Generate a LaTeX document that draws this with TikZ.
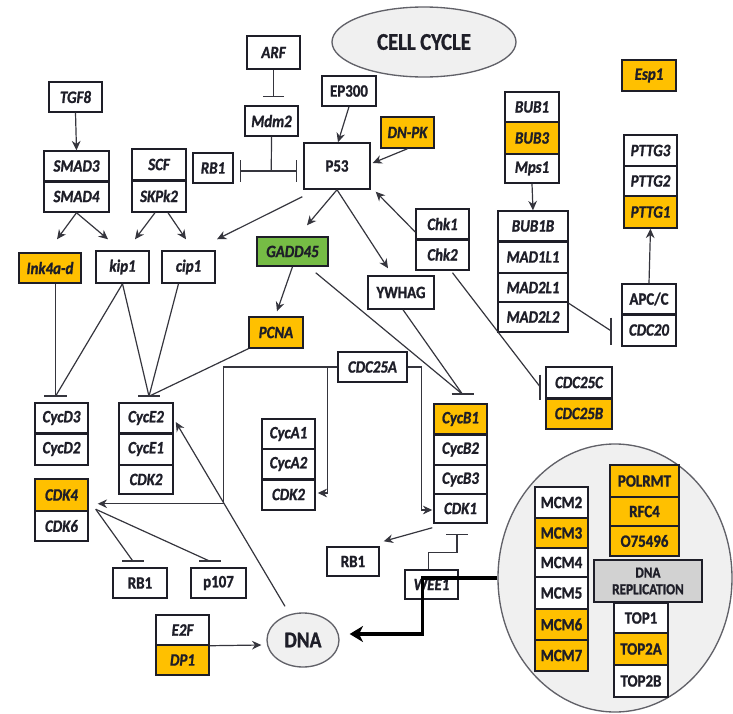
\documentclass[tikz,border=0pt]{standalone}
\usepackage{fontspec}
\setmainfont{Carlito}[FakeStretch=0.86, BoldFeatures={FakeBold=1.2}, BoldItalicFeatures={FakeBold=1.2}]
\usetikzlibrary{arrows.meta,calc,shapes.geometric}
\definecolor{orng}{HTML}{FFC000}
\definecolor{grn}{HTML}{76BC45}
\definecolor{ink}{HTML}{1E1E28}
\definecolor{lgray}{HTML}{F0F0F0}
\definecolor{mgray}{HTML}{D2D2D2}
\newcommand\lblfont{\fontsize{13}{14}\selectfont\bfseries\itshape}
\newcommand\uplfont{\fontsize{13}{14}\selectfont\bfseries}
\newcommand{\Bx}[7][]{\node[bx,#1,minimum width={(#5-#3)*0.75pt},minimum height={(#6-#4)*0.75pt}] (#2) at ({(#3+#5)/2},{(#4+#6)/2}) {#7};}
\newcommand{\Sep}[1]{\draw[sepline] (#1.south west) -- (#1.south east);}
\begin{document}
\begin{tikzpicture}[x=0.75pt,y=-0.75pt,
  bx/.style={draw=ink, line width=1.1pt, fill=white, inner sep=0pt, font=\lblfont, text=ink},
  up/.style={font=\uplfont},
  org/.style={fill=orng},
  gr/.style={fill=grn},
  sepline/.style={draw=ink, line width=2.2pt},
  con/.style={draw=ink!90, line width=0.9pt},
  arr/.style={con, -{Stealth[length=7pt,width=6.5pt]}},
  inh/.style={con, -{Bar[width=16pt,line width=1.3pt]}},
  barl/.style={draw=ink!90, line width=1.3pt},
  thk/.style={draw=black, line width=2.4pt, -{Stealth[length=10pt,width=12pt,inset=3pt]}},
  ell/.style={ellipse, draw=ink!70, line width=1pt, fill=lgray, inner sep=0pt, text=ink}
]
\useasboundingbox (0,0) rectangle (733,714);

% big replication circle and ellipses
\node[ell] (rep) at (615,578) [minimum width=234*0.75pt, minimum height=268*0.75pt] {};
\node[ell, minimum width=184*0.75pt, minimum height=70*0.75pt, font=\fontsize{18}{20}\selectfont\bfseries] (cc) at (424,42) {CELL CYCLE};
\node[ell, minimum width=72*0.75pt, minimum height=54*0.75pt, font=\fontsize{17}{19}\selectfont\bfseries] (dna) at (303,640) {DNA};

% boxes
\Bx{tgf}{49}{82}{102}{112}{TGF8}
\Bx{smad3}{44}{151}{109}{181}{SMAD3}
\Bx{smad4}{44}{181}{109}{212}{SMAD4}
\Bx{scf}{132}{149}{186}{180}{SCF}
\Bx{skpk2}{132}{180}{186}{212}{SKPk2}
\Bx{rbt}{193}{153}{233}{183}{RB1}
\Bx{arf}{247}{36}{300}{69}{ARF}
\Bx{mdm2}{245}{106}{298}{136}{Mdm2}
\Bx[up]{ep300}{322}{76}{376}{106}{EP300}
\Bx[up]{p53}{304}{143}{370}{189}{P53}
\Bx[org]{dnpk}{381}{117}{434}{148}{DN-PK}
\Bx[org]{esp1}{622}{60}{676}{91}{Esp1}
\Bx{bub1}{505}{92}{559}{122}{BUB1}
\Bx[org]{bub3}{505}{122}{559}{154}{BUB3}
\Bx{mps1}{505}{154}{559}{183}{Mps1}
\Bx{bub1b}{498}{211}{568}{241}{BUB1B}
\Bx{mad1l1}{498}{241}{568}{273}{MAD1L1}
\Bx{mad2l1}{498}{273}{568}{302}{MAD2L1}
\Bx{mad2l2}{498}{302}{568}{332}{MAD2L2}
\Bx{pttg3}{624}{135}{677}{166}{PTTG3}
\Bx{pttg2}{624}{166}{677}{196}{PTTG2}
\Bx[org]{pttg1}{624}{196}{677}{228}{PTTG1}
\Bx[up]{apcc}{622}{284}{676}{314}{APC/C}
\Bx{cdc20}{622}{314}{676}{346}{CDC20}
\Bx{chk1}{416}{209}{469}{239}{Chk1}
\Bx{chk2}{416}{239}{469}{270}{Chk2}
\Bx{cdc25c}{546}{367}{612}{398}{CDC25C}
\Bx[org]{cdc25b}{546}{398}{612}{429}{CDC25B}
\Bx[gr]{gadd45}{257}{237}{328}{266}{GADD45}
\Bx[org]{pcna}{249}{317}{303}{348}{PCNA}
\Bx[up]{ywhag}{368}{276}{434}{309}{YWHAG}
\Bx{cdc25a}{338}{352}{407}{382}{CDC25A}
\Bx[org]{ink4a}{19}{253}{81}{283}{Ink4a-d}
\Bx{kip1}{96}{251}{149}{283}{kip1}
\Bx{cip1}{162}{251}{215}{283}{cip1}
\Bx{cycd3}{35}{403}{88}{433}{CycD3}
\Bx{cycd2}{35}{433}{88}{465}{CycD2}
\Bx{cyce2}{119}{403}{173}{433}{CycE2}
\Bx{cyce1}{119}{433}{173}{465}{CycE1}
\Bx{cdk2e}{119}{465}{173}{494}{CDK2}
\Bx{cyca1}{262}{419}{315}{449}{CycA1}
\Bx{cyca2}{262}{449}{315}{479}{CycA2}
\Bx{cdk2a}{262}{479}{315}{510}{CDK2}
\Bx[org]{cycb1}{434}{404}{487}{434}{CycB1}
\Bx{cycb2}{434}{434}{487}{465}{CycB2}
\Bx{cycb3}{434}{465}{487}{494}{CycB3}
\Bx{cdk1}{434}{494}{487}{523}{CDK1}
\Bx[org]{cdk4}{35}{479}{88}{511}{CDK4}
\Bx{cdk6}{35}{511}{88}{541}{CDK6}
\Bx[up]{rbb}{113}{568}{167}{598}{RB1}
\Bx[up]{p107}{191}{568}{246}{598}{p107}
\Bx{e2f}{156}{615}{209}{645}{E2F}
\Bx[org]{dp1}{156}{645}{209}{675}{DP1}
\Bx[up]{rbm}{327}{547}{379}{576}{RB1}
\Bx{wee1}{405}{570}{458}{599}{WEE1}
% replication module
\Bx[up]{mcm2}{535}{487}{588}{518}{MCM2}
\Bx[up,org]{mcm3}{535}{518}{588}{548}{MCM3}
\Bx[up]{mcm4}{535}{548}{588}{577}{MCM4}
\Bx[up]{mcm5}{535}{577}{588}{609}{MCM5}
\Bx[up,org]{mcm6}{535}{609}{588}{640}{MCM6}
\Bx[up,org]{mcm7}{535}{640}{588}{671}{MCM7}
\Bx[up,org]{polrmt}{610}{465}{679}{497}{POLRMT}
\Bx[up,org]{rfc4}{610}{497}{679}{526}{RFC4}
\Bx[up,org]{o75496}{610}{526}{679}{556}{O75496}
\Bx[up,fill=mgray,align=center,font=\fontsize{11.5}{12.5}\selectfont\bfseries]{dnarep}{594}{560}{702}{602}{DNA\\REPLICATION}
\Bx[up]{top1}{614}{603}{668}{633}{TOP1}
\Bx[up,org]{top2a}{614}{633}{668}{665}{TOP2A}
\Bx[up]{top2b}{614}{665}{668}{697}{TOP2B}

% thick separators
\Sep{smad3}\Sep{scf}\Sep{bub1b}\Sep{apcc}\Sep{chk1}\Sep{cdc25c}
\Sep{cycd3}\Sep{cyce2}\Sep{cycb1}\Sep{cyca2}

% connectors
\draw[arr] (tgf.south) -- (smad3.north);
\draw[arr] (smad4.south) -- ($(ink4a.north)+(7,-13)$);
\draw[arr] (smad4.south) -- ($(kip1.north)+(-14.5,-11)$);
\draw[arr] ($(skpk2.south)+(-4,0)$) -- ($(kip1.north)+(12.5,-11)$);
\draw[arr] ($(skpk2.south)+(9,0)$) -- ($(cip1.north)+(-2.5,-11)$);
\draw[arr] ($(p53.south west)+(-1,7)$) -- ($(cip1.north)+(28.5,-11)$);
\draw[inh] (arf.south) -- ($(mdm2.north)+(2,-8)$);
\coordinate (jn) at ($(p53.west)+(-32,5)$);
\draw[con] (mdm2.south) -- (jn);
\draw[con, {Bar[width=16pt,line width=1.3pt]}-{Bar[width=16pt,line width=1.3pt]}] ($(rbt.east)+(6,3)$) -- ($(p53.west)+(-6,5)$);
\draw[arr] (ep300.south) -- ($(p53.north)+(1,0)$);
\draw[arr] (dnpk.south) -- ($(p53.east)+(2,-3)$);
\draw[arr] ($(chk1.west)+(0,8)$) -- ($(p53.south east)+(5,2)$);
\draw[arr] (p53.south) -- ($(gadd45.north)+(14.5,-11)$);
\draw[arr] (p53.south) -- ($(ywhag.north)+(-13,-7)$);
\draw[arr] (gadd45.south) -- ($(pcna.north)+(1,-5)$);
\coordinate (bB) at ($(cycb1.north)+(2,-9)$);
\draw[con] ($(gadd45.south east)+(-13,6)$) -- (bB);
\draw[con] ($(ywhag.south)+(2,0)$) -- (bB);
\draw[barl] ($(bB)+(-11,0)$) -- ($(bB)+(11,0)$);
\coordinate (bD) at ($(cycd3.north)+(-6,-6)$);
\draw[con] (ink4a.south -| bD) -- (bD);
\draw[con] (kip1.south) -- (bD);
\draw[barl] ($(bD)+(-11.5,0)$) -- ($(bD)+(11.5,0)$);
\coordinate (bE) at ($(cyce2.north)+(3,-6)$);
\draw[con] (kip1.south) -- (bE);
\draw[con] ($(cip1.south)+(-10,0)$) -- (bE);
\draw[con] (pcna.south west) -- (bE);
\draw[barl] ($(bE)+(-11,0)$) -- ($(bE)+(11,0)$);
\coordinate (bR) at ($(rbb.north)+(-7,-6)$);
\coordinate (bP) at ($(p107.north)+(-8.5,-6)$);
\draw[con] ($(cdk6.north east)+(7,-1)$) -- (bR);
\draw[con] ($(cdk6.north east)+(7,-1)$) -- (bP);
\draw[barl] ($(bR)+(-11,0)$) -- ($(bR)+(11,0)$);
\draw[barl] ($(bP)+(-11,0)$) -- ($(bP)+(11,0)$);
\draw[arr] (cdc25a.west) -| ($(cdk4.south east)+(135,-8)$) -- ($(cdk4.south east)+(9,-8)$);
\draw[arr] ($(cdc25a.west)+(-10,0)$) |- ($(cdk2a.east)+(2,-1.5)$);
\draw[arr] (cdc25a.east) -- ++(14,0) |- ($(cdk1.west)+(-1,1.5)$);
\draw[arr] ($(dna.north)+(-18,-6)$) -- ($(cyce2.east)+(2,4)$);
\draw[arr] (e2f.south east) -- ($(dna.west)+(-5,5)$);
\draw[arr] ($(cdk1.south west)+(-1,4)$) -- ($(rbm.north east)+(4,-5)$);
\draw[inh] ($(wee1.north)+(-3,0)$) -- ++(0,-17) -| ($(cdk1.south)+(-3.5,10)$);
\draw[arr] (mps1.south) -- (bub1b.north);
\draw[arr] (apcc.north) -- (pttg1.south);
\coordinate (bC) at ($(cdc20.west)+(-10,1)$);
\draw[con] ($(mad2l2.north east)+(0,2)$) -- (bC);
\draw[barl] ($(bC)+(0,-13.5)$) -- ($(bC)+(0,13.5)$);
\coordinate (bK) at ($(cdc25c.west)+(-5,4.5)$);
\draw[con] ($(chk2.south)+(10,2)$) -- (bK);
\draw[barl] ($(bK)+(0,-12.5)$) -- ($(bK)+(0,12.5)$);
\draw[thk] (rep.west) -- ++(-75,0) |- ($(dna.east)+(10,-6)$);
\end{tikzpicture}
\end{document}
